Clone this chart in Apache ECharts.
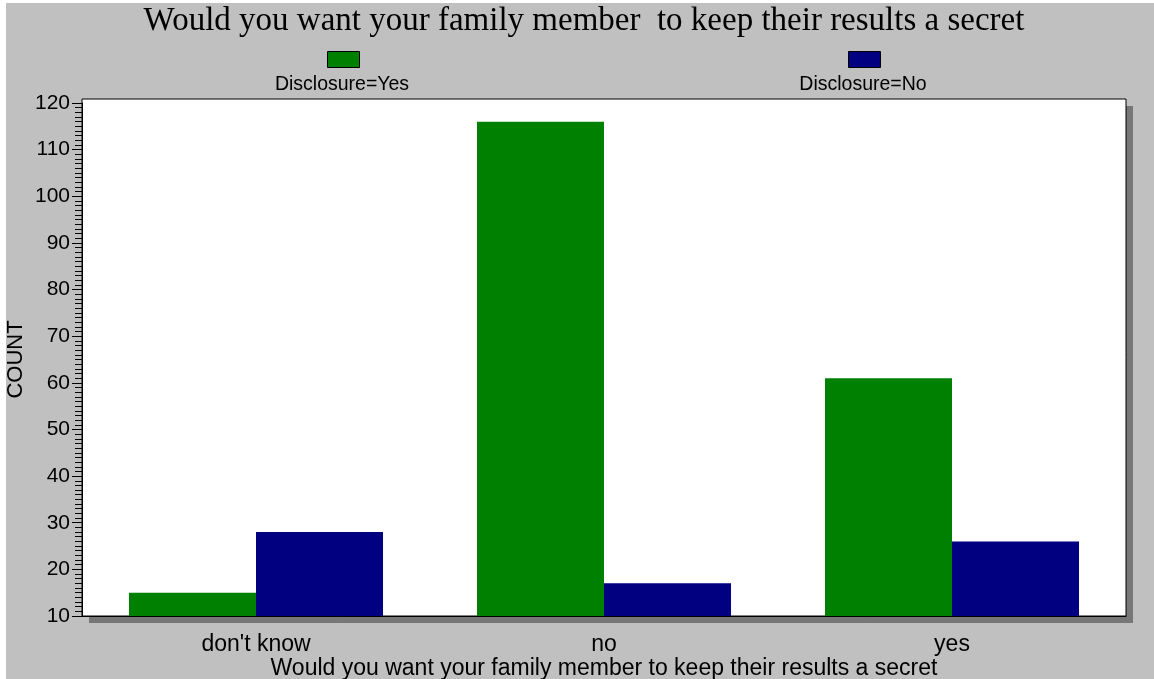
<!DOCTYPE html>
<html>
<head>
<meta charset="utf-8">
<title>Would you want your family member to keep their results a secret</title>
<script src="https://cdn.jsdelivr.net/npm/echarts@6/dist/echarts.min.js"></script>
<style>
  html, body {
    margin: 0;
    padding: 0;
    background: #ffffff;
  }
  #chart {
    position: absolute;
    left: 6px;
    top: 3px;
    width: 1148px;
    height: 676px;
  }
</style>
</head>
<body>
<div id="chart"></div>
<script>
// data
const categories = ["don't know", 'no', 'yes']
const disclosureYes = [15, 116, 61]
const disclosureNo = [28, 17, 26]
const seriesNames = ['Disclosure=Yes', 'Disclosure=No']
const yMin = 10
const yMax = 120
const yStep = 10

const sans = 'Liberation Sans, Arial, sans-serif'
const serif = 'Liberation Serif, Times New Roman, serif'
const green = '#008000'
const navy = '#000080'

const chart = echarts.init(document.getElementById('chart'))

// legend: swatch above its label, like the original
const legendItem = (name, left) => ({
  left: left,
  top: 48,
  padding: 0,
  orient: 'horizontal',
  icon: 'rect',
  itemWidth: 32,
  itemHeight: 16,
  itemStyle: { borderColor: '#000', borderWidth: 1 },
  formatter: () => '',
  selectedMode: false,
  data: [name]
})

const legendLabel = (text, x) => ({
  type: 'text',
  x: x,
  y: 82,
  style: {
    text: text,
    fill: '#000',
    font: '19.5px ' + sans,
    textAlign: 'center',
    textVerticalAlign: 'middle'
  }
})

const option = {
  backgroundColor: '#c0c0c0',
  animation: false,
  title: {
    text: 'Would you want your family member  to keep their results a secret',
    left: 578,
    top: 2,
    padding: 0,
    textAlign: 'center',
    textStyle: {
      fontFamily: serif,
      fontSize: 33,
      fontWeight: 'normal',
      color: '#000'
    }
  },
  legend: [
    legendItem(seriesNames[0], 321),
    legendItem(seriesNames[1], 842)
  ],
  graphic: [
    legendLabel(seriesNames[0], 336),
    legendLabel(seriesNames[1], 857)
  ],
  grid: [
    // drop shadow of the plot box
    {
      show: true,
      outerBoundsMode: 'none',
      left: 83,
      top: 103,
      right: 21,
      bottom: 56,
      backgroundColor: '#777777',
      borderWidth: 0
    },
    // white plot box
    {
      show: true,
      outerBoundsMode: 'none',
      left: 76,
      top: 96,
      right: 28,
      bottom: 63,
      backgroundColor: '#ffffff',
      borderColor: '#000',
      borderWidth: 1
    },
    // axes
    {
      outerBoundsMode: 'none',
      containLabel: false,
      left: 76,
      top: 100,
      right: 28,
      bottom: 63
    }
  ],
  xAxis: {
    type: 'category',
    gridIndex: 2,
    data: categories,
    name: 'Would you want your family member to keep their results a secret',
    nameLocation: 'middle',
    nameGap: 41,
    nameMoveOverlap: false,
    nameTextStyle: { fontFamily: sans, fontSize: 23, color: '#000' },
    axisLine: { lineStyle: { color: '#000', width: 1 } },
    axisTick: { inside: false, alignWithLabel: true, length: 15, lineStyle: { color: '#000' } },
    axisLabel: { fontFamily: sans, fontSize: 23, color: '#000', margin: 17 }
  },
  yAxis: {
    type: 'value',
    gridIndex: 2,
    min: yMin,
    max: yMax,
    interval: yStep,
    name: 'COUNT',
    nameLocation: 'middle',
    nameGap: 55,
    nameMoveOverlap: false,
    nameTextStyle: { fontFamily: sans, fontSize: 22, color: '#000' },
    axisLine: { show: true, lineStyle: { color: '#000', width: 1 } },
    axisTick: { show: true, inside: false, length: 10, lineStyle: { color: '#000' } },
    minorTick: { show: true, splitNumber: 10, length: 7, lineStyle: { color: '#000' } },
    splitLine: { show: false },
    axisLabel: { fontFamily: sans, fontSize: 21, color: '#000', margin: 12 }
  },
  series: [
    {
      name: seriesNames[0],
      type: 'bar',
      xAxisIndex: 0,
      yAxisIndex: 0,
      barGap: '0%',
      barCategoryGap: '27%',
      itemStyle: { color: green },
      data: disclosureYes
    },
    {
      name: seriesNames[1],
      type: 'bar',
      xAxisIndex: 0,
      yAxisIndex: 0,
      barGap: '0%',
      barCategoryGap: '27%',
      itemStyle: { color: navy },
      data: disclosureNo
    }
  ]
}

chart.setOption(option)
</script>
</body>
</html>
